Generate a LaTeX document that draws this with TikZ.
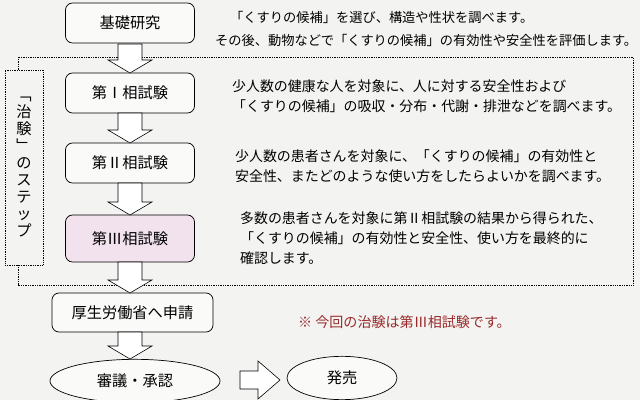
\documentclass[tikz,border=0pt]{standalone}
\usepackage{fontspec}
\setmainfont{Noto Sans CJK JP}
\usetikzlibrary{shapes.geometric}
\definecolor{bg}{HTML}{F3F3F1}
\definecolor{pinkf}{HTML}{F1E2EE}
\definecolor{redt}{HTML}{9A2A2A}
\begin{document}
\begin{tikzpicture}[x=0.03cm,y=-0.03cm,
  stepbox/.style={draw,rounded corners=6pt,line width=0.6pt,fill=white!60!bg,minimum width=3.87cm,minimum height=1.2cm,font=\fontsize{13}{15}\selectfont},
  oval/.style={draw,ellipse,line width=0.6pt,fill=white!60!bg,font=\fontsize{13}{15}\selectfont},
  desc/.style={anchor=west,align=left,font=\fontsize{11.9}{17}\selectfont},
  topdesc/.style={anchor=west,font=\fontsize{11.3}{13}\selectfont},
  barrow/.style={draw,line width=0.5pt,fill=white},
  frame/.style={draw,densely dotted,line width=0.5pt}]
\fill[bg] (0,0) rectangle (640,400);
\useasboundingbox (0,0) rectangle (640,400);
% frame
\draw[frame] (18,70) -- (18,57) -- (633,57) -- (633,285) -- (18,285) -- (18,265);
\node[frame,fill=bg,minimum width=1.14cm,minimum height=5.85cm] (lbl) at (24,167.5) {};
\node[font=\fontsize{13}{14.5}\selectfont,align=center,inner sep=0pt] (lbltxt) at (24,167) {﹁\\治\\験\\﹂\\の\\ス\\テ\\ッ\\プ};
% boxes
\node[stepbox] (b0) at (130,23) {基礎研究};
\node[stepbox] (b1) at (130,93) {第Ⅰ相試験};
\node[stepbox] (b2) at (130,163) {第Ⅱ相試験};
\node[stepbox,fill=pinkf,minimum height=1.41cm] (b3) at (130,238.5) {第Ⅲ相試験};
\node[stepbox,minimum width=4.83cm,minimum height=1.17cm] (b4) at (132.5,312.5) {厚生労働省へ申請};
\node[oval,minimum width=5.1cm,minimum height=1.3cm] (e1) at (135,381) {審議・承認};
\node[oval,minimum width=3.3cm,minimum height=1.3cm] (e2) at (342,378) {発売};
% block arrows
\foreach \a/\b in {44/73,113/143,183/215,262/293,332/359}{
  \draw[barrow] (118,\a) -- (142,\a) -- (142,\b-13) -- (152,\b-13) -- (130,\b) -- (108,\b-13) -- (118,\b-13) -- cycle;}
\draw[barrow] (240,371) -- (258,371) -- (258,361) -- (280,380) -- (258,399) -- (258,389) -- (240,389) -- cycle;
% texts
\node[topdesc] (t0a) at (226,17) {「くすりの候補」を選び、構造や性状を調べます。};
\node[topdesc] (t0b) at (211,40) {その後、動物などで「くすりの候補」の有効性や安全性を評価します。};
\node[desc] (t1) at (228,96) {少人数の健康な人を対象に、人に対する安全性および\\「くすりの候補」の吸収・分布・代謝・排泄などを調べます。};
\node[desc] (t2) at (231,166) {少人数の患者さんを対象に、「くすりの候補」の有効性と\\安全性、またどのような使い方をしたらよいかを調べます。};
\node[desc] (t3) at (236,238) {多数の患者さんを対象に第Ⅱ相試験の結果から得られた、\\「くすりの候補」の有効性と安全性、使い方を最終的に\\確認します。};
\node[anchor=west,text=redt,font=\fontsize{12}{14}\selectfont] (note) at (294,322) {※ 今回の治験は第Ⅲ相試験です。};
\end{tikzpicture}
\end{document}
